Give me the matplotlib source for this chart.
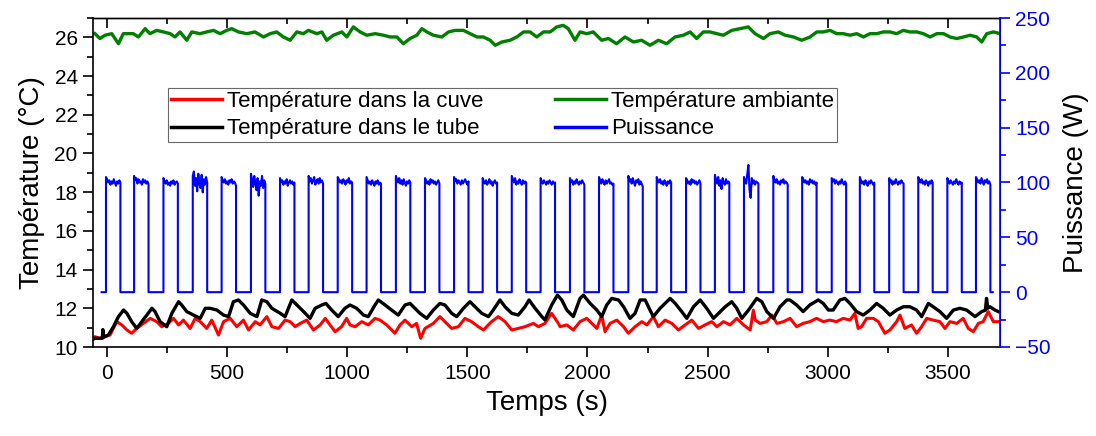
import numpy as np
import matplotlib.pyplot as plt
from matplotlib.ticker import MultipleLocator

plt.rcParams['font.family'] = ['Liberation Sans', 'DejaVu Sans']

# temperature in the tank (red)
cuve_t = [-60, -48, -30, -7, 14, 42, 63, 84, 104, 125, 153, 181, 208, 229, 257, 278, 299, 319, 347, 368,
          389, 416, 437, 465, 486, 514, 541, 569, 590, 618, 638, 666, 687, 715, 742, 763, 784, 805, 832, 860,
          888, 909, 929, 950, 977, 998, 1012, 1033, 1061, 1088, 1116, 1137, 1165, 1199, 1220, 1241, 1269, 1289, 1306, 1324,
          1359, 1386, 1414, 1435, 1463, 1490, 1518, 1546, 1567, 1601, 1629, 1657, 1685, 1712, 1740, 1775, 1796, 1823, 1851, 1879,
          1886, 1914, 1941, 1969, 1997, 2018, 2039, 2059, 2073, 2094, 2122, 2150, 2170, 2198, 2226, 2247, 2274, 2295, 2323, 2351,
          2378, 2406, 2434, 2462, 2489, 2517, 2538, 2566, 2593, 2621, 2649, 2677, 2690, 2698, 2718, 2746, 2767, 2788, 2815, 2843,
          2870, 2897, 2925, 2953, 2981, 3008, 3036, 3064, 3092, 3112, 3126, 3140, 3161, 3189, 3210, 3237, 3258, 3286, 3300, 3320,
          3348, 3369, 3390, 3411, 3438, 3466, 3487, 3508, 3536, 3563, 3584, 3605, 3626, 3646, 3667, 3688, 3709]
cuve_T = [10.50, 10.53, 10.45, 10.53, 10.62, 11.31, 11.14, 10.88, 10.71, 10.96, 11.22, 11.48, 11.31, 11.05, 11.22, 11.48, 11.14, 11.39, 10.96, 11.48,
          11.31, 10.96, 11.39, 10.62, 11.31, 11.48, 11.05, 11.39, 10.88, 11.31, 11.14, 11.57, 11.05, 10.96, 11.39, 11.31, 11.05, 11.22, 11.39, 10.88,
          11.14, 11.48, 11.14, 10.79, 11.05, 11.48, 11.14, 11.05, 11.31, 11.14, 11.48, 11.39, 11.14, 10.71, 11.14, 11.39, 11.05, 11.22, 10.45, 10.96,
          11.22, 11.57, 11.22, 10.96, 11.05, 11.48, 11.31, 11.05, 10.88, 11.31, 11.57, 11.31, 10.88, 10.96, 11.05, 11.22, 11.05, 11.22, 11.74, 11.22,
          11.05, 11.14, 10.88, 11.31, 11.48, 11.22, 10.96, 11.65, 10.79, 11.22, 11.39, 11.05, 10.71, 11.05, 11.31, 11.14, 11.57, 11.05, 11.39, 11.22,
          10.88, 11.14, 11.39, 10.96, 11.14, 11.31, 11.05, 11.31, 11.14, 11.48, 11.14, 10.88, 11.90, 11.39, 11.22, 11.31, 11.65, 11.22, 11.31, 11.48,
          11.05, 11.22, 11.31, 11.48, 11.31, 11.39, 11.31, 11.48, 11.39, 11.74, 10.96, 11.05, 11.48, 11.48, 11.31, 10.71, 10.88, 11.31, 11.65, 10.96,
          11.14, 10.71, 11.05, 11.48, 11.39, 11.31, 10.96, 11.31, 11.22, 11.48, 10.96, 10.79, 11.22, 11.31, 11.83, 11.31, 11.31]

# temperature in the tube (black)
tube_t = [-60, -48, -30, -18, -16, -13, -7, 7, 28, 49, 70, 84, 104, 125, 146, 167, 188, 201, 222, 250,
          271, 299, 312, 333, 361, 389, 410, 430, 458, 486, 507, 527, 548, 569, 597, 625, 645, 666, 687, 722,
          742, 770, 791, 819, 846, 867, 895, 912, 936, 963, 991, 1012, 1040, 1068, 1088, 1116, 1130, 1158, 1185, 1213,
          1241, 1262, 1282, 1303, 1331, 1359, 1386, 1407, 1435, 1456, 1484, 1511, 1532, 1560, 1588, 1608, 1636, 1657, 1685, 1712,
          1740, 1757, 1782, 1810, 1823, 1851, 1875, 1893, 1914, 1941, 1969, 1983, 2011, 2039, 2059, 2080, 2101, 2129, 2150, 2177,
          2198, 2219, 2240, 2260, 2274, 2302, 2344, 2365, 2392, 2413, 2441, 2469, 2496, 2524, 2545, 2573, 2600, 2621, 2642, 2670,
          2704, 2725, 2746, 2774, 2801, 2829, 2842, 2870, 2897, 2925, 2960, 2981, 3002, 3022, 3050, 3071, 3092, 3119, 3147, 3175,
          3203, 3230, 3258, 3286, 3314, 3341, 3369, 3390, 3418, 3438, 3466, 3494, 3522, 3549, 3577, 3612, 3640, 3655, 3660, 3665,
          3674, 3695, 3709]
tube_T = [10.38, 10.45, 10.45, 10.45, 10.90, 10.50, 10.55, 10.62, 11.05, 11.57, 11.91, 11.74, 11.31, 10.96, 11.31, 11.65, 12.00, 11.83, 11.31, 11.05,
          11.74, 12.34, 12.17, 11.83, 11.65, 11.48, 12.00, 12.00, 11.91, 11.65, 11.57, 12.34, 12.43, 12.17, 11.74, 11.57, 12.43, 12.34, 12.00, 11.74,
          11.57, 12.43, 12.17, 11.83, 11.48, 12.00, 12.17, 12.25, 11.91, 11.57, 12.00, 12.17, 12.00, 11.65, 11.57, 12.17, 12.43, 12.17, 11.91, 11.65,
          12.17, 12.25, 12.00, 11.74, 11.48, 11.91, 12.25, 12.17, 11.74, 11.57, 12.00, 12.34, 12.08, 11.74, 11.57, 11.91, 12.43, 12.08, 11.74, 11.65,
          12.08, 12.43, 12.00, 11.57, 11.40, 12.17, 12.68, 12.43, 11.91, 11.57, 12.51, 12.68, 12.25, 11.91, 11.57, 12.17, 12.51, 12.43, 12.08, 11.48,
          11.74, 12.43, 12.43, 11.91, 11.57, 12.00, 12.51, 12.25, 11.83, 11.48, 12.08, 12.43, 12.00, 11.48, 11.74, 12.08, 12.34, 12.00, 11.48, 11.91,
          12.51, 12.34, 11.83, 11.48, 12.08, 12.43, 12.43, 12.17, 11.83, 12.17, 12.43, 12.25, 11.91, 11.91, 12.43, 12.51, 12.25, 11.83, 11.65, 11.91,
          12.25, 12.00, 11.65, 11.91, 12.08, 12.08, 11.91, 11.57, 12.25, 12.08, 11.83, 11.48, 11.91, 12.00, 11.91, 11.57, 11.83, 11.90, 12.51, 12.00,
          12.08, 11.91, 11.83]

# ambient temperature (green)
amb_t = [-49, -28, -7, 21, 49, 69, 111, 132, 160, 180, 208, 236, 264, 284, 305, 333, 354, 388, 416, 444,
         472, 499, 520, 548, 583, 617, 652, 680, 707, 735, 763, 791, 818, 839, 874, 895, 915, 943, 978, 999,
         1026, 1054, 1082, 1117, 1151, 1179, 1207, 1234, 1262, 1290, 1311, 1332, 1359, 1394, 1422, 1449, 1484, 1512, 1540, 1567,
         1595, 1616, 1644, 1678, 1706, 1734, 1761, 1789, 1817, 1845, 1872, 1899, 1920, 1948, 1969, 1997, 2024, 2059, 2087, 2121,
         2156, 2191, 2225, 2260, 2295, 2329, 2364, 2399, 2427, 2454, 2482, 2510, 2538, 2565, 2600, 2635, 2669, 2697, 2732, 2759,
         2794, 2822, 2857, 2891, 2926, 2954, 2981, 3009, 3037, 3064, 3092, 3120, 3148, 3175, 3203, 3231, 3259, 3286, 3314, 3342,
         3370, 3397, 3425, 3453, 3481, 3508, 3536, 3564, 3592, 3619, 3640, 3661, 3689, 3716]
amb_T = [26.19, 25.94, 26.11, 26.19, 25.67, 26.19, 26.19, 26.02, 26.45, 26.19, 26.36, 26.28, 26.19, 26.02, 26.28, 25.85, 26.28, 26.19, 26.28, 26.36,
         26.19, 26.36, 26.45, 26.28, 26.19, 26.28, 26.02, 26.19, 26.28, 26.02, 25.85, 26.28, 26.19, 26.36, 26.19, 26.28, 25.85, 26.11, 26.28, 26.02,
         26.54, 26.28, 26.11, 26.19, 26.11, 26.02, 26.02, 25.67, 25.94, 26.11, 26.45, 26.28, 26.11, 26.02, 26.28, 26.36, 26.36, 26.19, 26.02, 26.02,
         25.85, 25.59, 25.76, 25.85, 26.02, 26.28, 26.28, 26.02, 26.28, 26.28, 26.54, 26.62, 26.45, 25.85, 26.28, 26.19, 26.28, 25.85, 25.94, 25.67,
         26.02, 25.76, 25.85, 25.59, 25.85, 25.67, 26.02, 26.11, 26.28, 25.94, 26.28, 26.28, 26.19, 26.11, 26.36, 26.45, 26.54, 26.19, 25.94, 26.19,
         26.28, 26.11, 26.02, 25.85, 26.02, 26.28, 26.28, 26.36, 26.19, 26.19, 26.11, 26.19, 26.02, 26.19, 26.19, 26.28, 26.28, 26.19, 26.36, 26.28,
         26.28, 26.19, 26.02, 26.19, 26.19, 26.02, 25.94, 26.02, 26.11, 26.02, 25.76, 26.19, 26.28, 26.19]

# heating power (blue): pulse start times (s), pulse length, plateau readings
power_start = -21
power_end = 3686
pulse_on = [-3, 114, 236, 358, 478, 600, 721, 840, 961, 1081, 1203, 1324, 1445, 1564, 1685, 1805,
            1927, 2048, 2170, 2288, 2410, 2530, 2651, 2773, 2893, 3016, 3133, 3255, 3376, 3497, 3616]
pulse_len = 60
pulse_level = [
    [105, 103, 100, 102, 98, 101, 99, 103, 100, 97, 101, 99, 102, 100],
    [106, 102, 104, 99, 103, 100, 101, 98, 103, 100, 102, 99, 101, 98],
    [104, 101, 99, 102, 98, 100, 97, 101, 99, 102, 98, 100, 101, 99],
    [106, 110, 97, 104, 92, 108, 99, 95, 107, 91, 103, 98, 105, 100],
    [105, 102, 100, 103, 99, 101, 98, 102, 100, 103, 99, 101, 100, 97],
    [108, 103, 96, 106, 99, 93, 104, 88, 101, 97, 106, 95, 102, 99],
    [104, 100, 102, 98, 101, 99, 103, 97, 100, 102, 99, 101, 98, 100],
    [106, 101, 104, 99, 102, 105, 98, 101, 103, 99, 104, 100, 102, 99],
    [105, 103, 100, 102, 99, 103, 101, 98, 102, 100, 104, 99, 101, 100],
    [105, 102, 99, 101, 98, 102, 100, 97, 101, 99, 102, 98, 100, 99],
    [106, 103, 100, 104, 99, 102, 98, 103, 100, 97, 101, 99, 102, 100],
    [104, 102, 99, 101, 98, 103, 100, 102, 99, 101, 98, 100, 102, 99],
    [105, 101, 103, 99, 102, 100, 98, 102, 99, 101, 103, 100, 98, 101],
    [104, 101, 99, 102, 98, 100, 103, 99, 101, 97, 100, 102, 99, 100],
    [106, 103, 100, 104, 98, 101, 99, 103, 100, 98, 102, 99, 101, 100],
    [104, 101, 99, 102, 100, 98, 101, 99, 102, 100, 98, 101, 99, 100],
    [104, 100, 102, 98, 101, 99, 103, 100, 98, 101, 99, 102, 100, 98],
    [105, 102, 99, 103, 100, 98, 102, 99, 101, 103, 99, 100, 98, 99],
    [106, 101, 103, 99, 104, 100, 97, 102, 100, 103, 98, 101, 99, 96],
    [105, 102, 100, 103, 99, 101, 98, 102, 100, 97, 101, 99, 102, 100],
    [104, 102, 99, 101, 98, 103, 100, 102, 99, 101, 98, 100, 102, 99],
    [107, 103, 99, 105, 97, 102, 94, 104, 100, 98, 103, 99, 101, 100],
    [105, 101, 99, 108, 116, 93, 86, 104, 99, 102, 98, 101, 100, 99],
    [106, 102, 100, 103, 99, 101, 98, 102, 100, 103, 99, 101, 100, 98],
    [105, 103, 100, 102, 99, 101, 98, 103, 100, 102, 99, 101, 98, 100],
    [104, 101, 103, 99, 102, 100, 98, 101, 99, 103, 100, 98, 101, 99],
    [105, 102, 99, 101, 98, 102, 100, 97, 101, 99, 102, 100, 98, 100],
    [104, 100, 102, 98, 101, 99, 103, 100, 98, 101, 99, 102, 100, 99],
    [105, 102, 100, 103, 99, 101, 98, 102, 100, 97, 101, 99, 102, 100],
    [104, 101, 99, 102, 100, 98, 101, 99, 103, 100, 98, 101, 99, 100],
    [105, 103, 100, 102, 99, 104, 101, 98, 102, 100, 103, 99, 101, 98],
]

# build the square wave from the pulses
pw_x = [power_start]
pw_y = [0]
for t0, lev in zip(pulse_on, pulse_level):
    xs = np.linspace(t0, t0 + pulse_len, len(lev))
    pw_x += [t0] + list(xs) + [t0 + pulse_len]
    pw_y += [0] + lev + [0]
pw_x.append(power_end)
pw_y.append(0)

fig = plt.figure(figsize=(10.96, 4.36), dpi=100)
ax = fig.add_axes([93/1096, 1 - 347/436, 907/1096, 329/436])
ax2 = ax.twinx()

l1, = ax.plot(cuve_t, cuve_T, color='#ff0000', lw=2.2, label='Température dans la cuve')
l2, = ax.plot(tube_t, tube_T, color='black', lw=2.4, label='Température dans le tube')
l3, = ax.plot(amb_t, amb_T, color='#007f00', lw=2.4, label='Température ambiante')
l4, = ax2.plot(pw_x, pw_y, color='#0000ff', lw=1.5, label='Puissance')

ax.set_xlim(-57, 3716)
ax.set_ylim(10, 27)
ax2.set_ylim(-50, 250)

ax.xaxis.set_major_locator(MultipleLocator(500))
ax.xaxis.set_minor_locator(MultipleLocator(250))
ax.yaxis.set_major_locator(MultipleLocator(2))
ax.yaxis.set_minor_locator(MultipleLocator(1))
ax2.yaxis.set_major_locator(MultipleLocator(50))
ax2.yaxis.set_minor_locator(MultipleLocator(25))

ax.tick_params(axis='x', which='both', direction='out', top=False, labelsize=15, width=1.2, pad=5)
ax.tick_params(axis='x', which='major', length=7)
ax.tick_params(axis='x', which='minor', length=4)
ax.tick_params(axis='y', which='major', direction='out', length=7, width=1.2, labelsize=15, pad=4)
ax.tick_params(axis='y', which='minor', direction='out', length=4, width=1.2)
ax2.tick_params(axis='y', which='major', direction='out', length=7, width=1.2, labelsize=15, pad=4,
                colors='#0000ff')
ax2.tick_params(axis='y', which='minor', direction='out', length=4, width=1.2, colors='#0000ff')

# inward ticks on the top edge
sec = ax.secondary_xaxis('top')
sec.xaxis.set_major_locator(MultipleLocator(500))
sec.xaxis.set_minor_locator(MultipleLocator(250))
sec.tick_params(which='major', direction='in', length=7, width=1.2, labeltop=False)
sec.tick_params(which='minor', direction='in', length=4, width=1.2)
sec.spines['top'].set_linewidth(1.0)

for s in ['left', 'bottom']:
    ax.spines[s].set_linewidth(1.2)
ax.spines['top'].set_linewidth(1.0)
ax2.spines['right'].set_color('#0000ff')
ax2.spines['right'].set_linewidth(1.2)
ax2.spines['left'].set_visible(False)
ax2.spines['top'].set_visible(False)
ax2.spines['bottom'].set_visible(False)

ax.set_xlabel('Temps (s)', fontsize=20, labelpad=5)
ax.set_ylabel('Température (°C)', fontsize=20, labelpad=7)
ax2.set_ylabel('Puissance (W)', fontsize=20, labelpad=9)

leg = ax2.legend(handles=[l1, l2, l3, l4], ncol=2, loc='upper left',
                 bbox_to_anchor=(168/1096, 1 - 88/436), bbox_transform=fig.transFigure,
                 fontsize=16, frameon=True, fancybox=False, edgecolor='#444444',
                 handlelength=2.3, handletextpad=0.25, columnspacing=3.2,
                 labelspacing=0.3, borderpad=0.12, borderaxespad=0)
leg.get_frame().set_linewidth(0.8)
for h in leg.legend_handles:
    h.set_linewidth(2.5)

fig.savefig('out.png', dpi=100)
